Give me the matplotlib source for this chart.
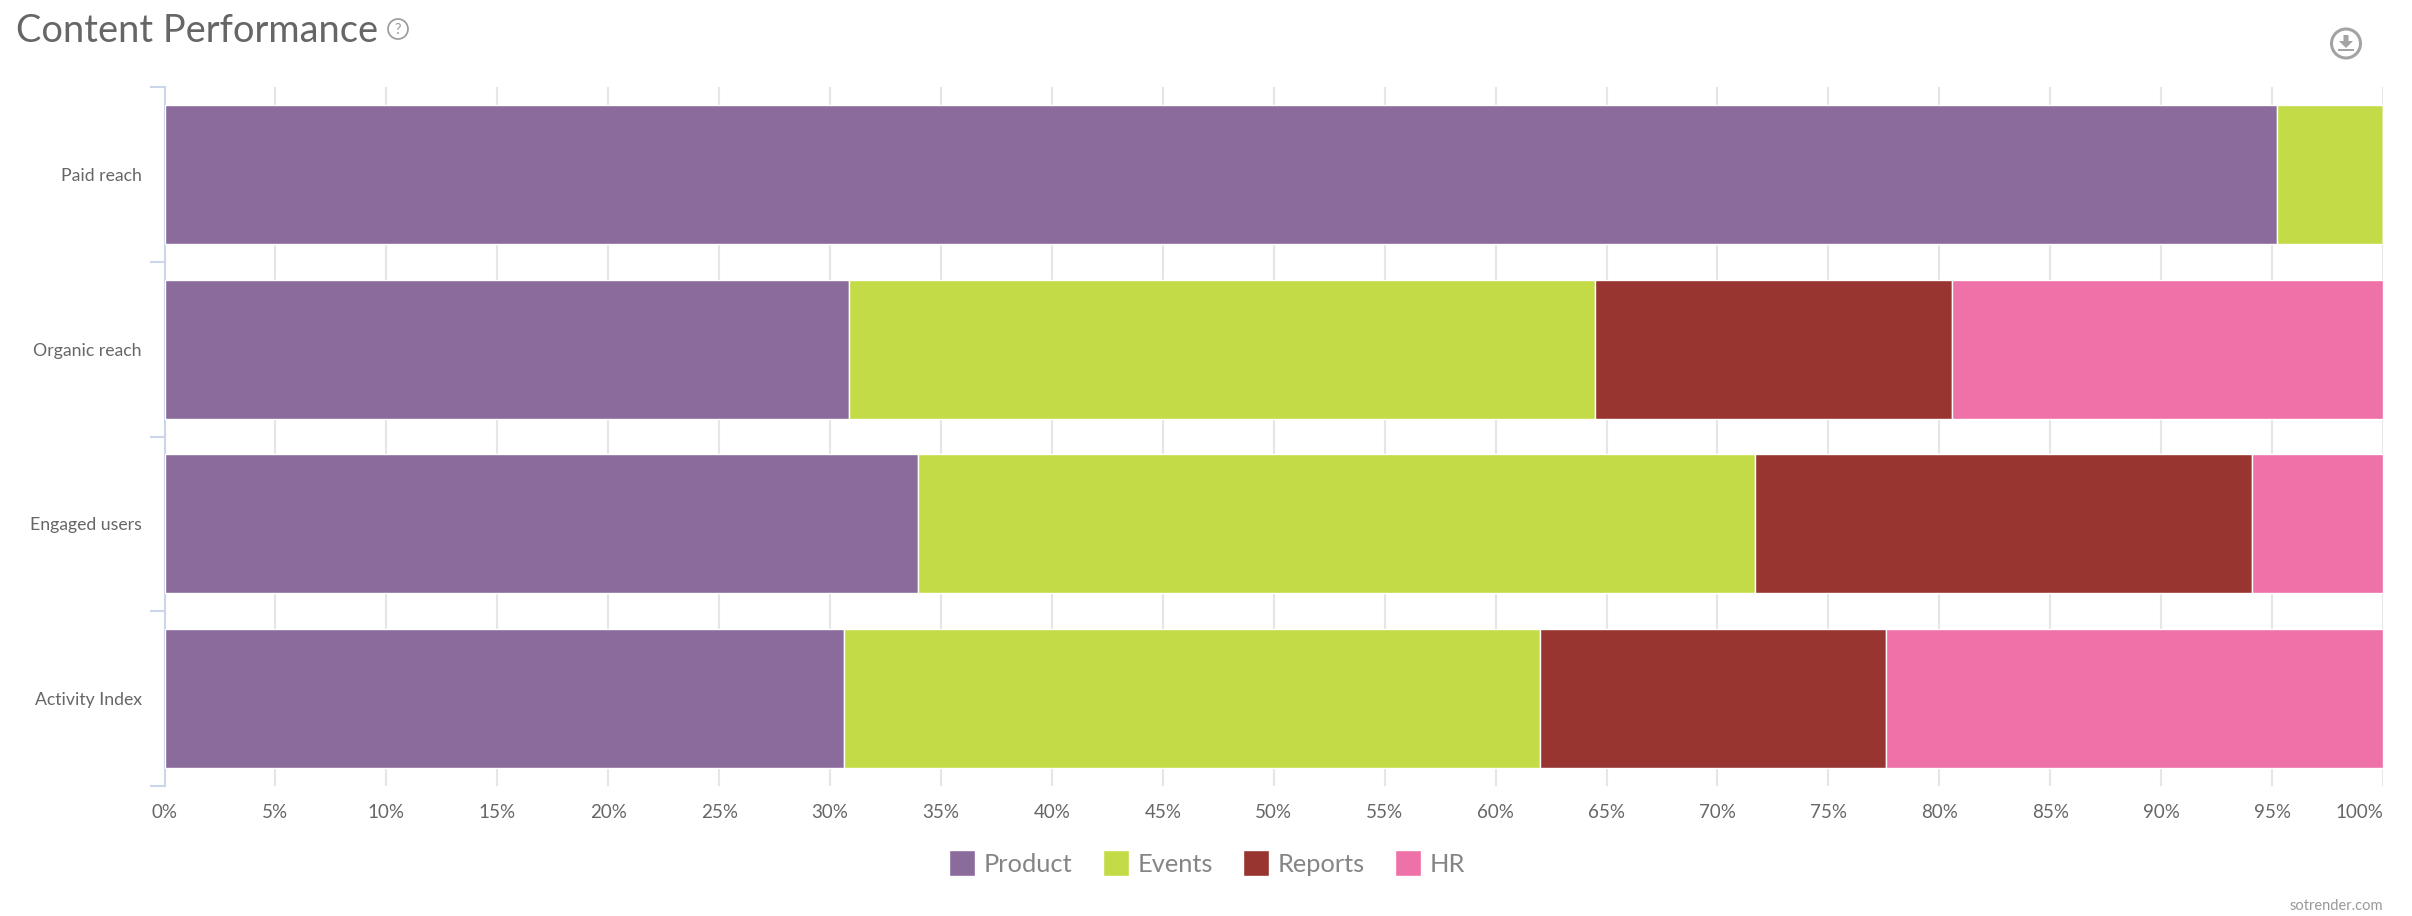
import matplotlib
matplotlib.use("Agg")
import matplotlib.pyplot as plt
from matplotlib.patches import Circle, Polygon, Rectangle

plt.rcParams['font.family'] = ['Lato', 'Open Sans', 'DejaVu Sans']

categories = ["Paid reach", "Organic reach", "Engaged users", "Activity Index"]
product = [95.2, 30.86, 33.98, 30.65]
events = [4.8, 33.63, 37.72, 31.35]
reports = [0, 16.09, 22.4, 15.6]
hr = [0, 19.42, 5.9, 22.4]
series = [("Product", product, "#8a6b9b"), ("Events", events, "#c3db46"),
          ("Reports", reports, "#993530"), ("HR", hr, "#ee71a8")]
xticks = list(range(0, 101, 5))

W, H = 2412, 916
fig = plt.figure(figsize=(W / 100, H / 100), dpi=100, facecolor="white")
L, R, T, B = 164.5, 2383, 87, 786
ax = fig.add_axes([L / W, 1 - B / H, (R - L) / W, (B - T) / H])

left = [0.0] * len(categories)
for name, vals, color in series:
    ax.barh(categories, vals, left=left, height=0.795, color=color, edgecolor="white",
            linewidth=1.0, label=name, zorder=3)
    left = [a + b for a, b in zip(left, vals)]

ax.set_xlim(0, 100)
ax.set_ylim(3.5, -0.5)
ax.set_xticks(xticks)
ax.set_xticklabels([f"{v}%" for v in xticks], fontsize=13.5, color="#666666")
ax.xaxis.grid(True, color="#e6e6e6", linewidth=1.5, zorder=0)
ax.set_axisbelow(True)
ax.tick_params(axis="x", length=0, pad=13)
ax.tick_params(axis="y", which="major", length=0, pad=16.5, labelsize=12.7, labelcolor="#666666")
ax.set_yticks([-0.5, 0.5, 1.5, 2.5, 3.5], minor=True)
ax.tick_params(axis="y", which="minor", length=11, width=1.5, color="#ccd6eb")
ax.xaxis.get_majorticklabels()[-1].set_ha("right")
for s in ["top", "right", "bottom"]:
    ax.spines[s].set_visible(False)
ax.spines["left"].set_color("#ccd6eb")
ax.spines["left"].set_linewidth(1.5)
ax.spines["left"].set_zorder(2)

fig.legend(loc="center", bbox_to_anchor=(1207 / W, 1 - 863 / H), ncol=4, frameon=False,
           fontsize=18.3, labelcolor="#858585", handlelength=1.03, handleheight=1.18,
           handletextpad=0.33, columnspacing=1.2, borderpad=0, borderaxespad=0)

fig.text(16 / W, 1 - 31 / H, "Content Performance", fontsize=27.4, color="#666666", va="center", ha="left")
fig.text(2383 / W, 1 - 906 / H, "sotrender.com", fontsize=10.5, color="#999999", va="center", ha="right")

# Header icons, placed in pixel coordinates
overlay = fig.add_axes([0, 0, 1, 1], facecolor="none")
overlay.set_xlim(0, W)
overlay.set_ylim(H, 0)
overlay.axis("off")
overlay.add_patch(Circle((398, 29), 10, fill=False, ec="#999999", lw=1.2))
overlay.text(398, 29.5, "?", fontsize=10.5, color="#999999", ha="center", va="center")
overlay.add_patch(Circle((2346, 43.5), 14.5, fill=False, ec="#a3a3a3", lw=2.2))
overlay.add_patch(Polygon([(2343.5, 35), (2348.5, 35), (2348.5, 41), (2353, 41), (2346, 48), (2339, 41), (2343.5, 41)],
                          closed=True, fc="#a3a3a3", ec="none"))
overlay.add_patch(Rectangle((2338, 48.5), 16, 2.6, fc="#a3a3a3", ec="none"))

fig.savefig("out.png", dpi=100, facecolor="white")
